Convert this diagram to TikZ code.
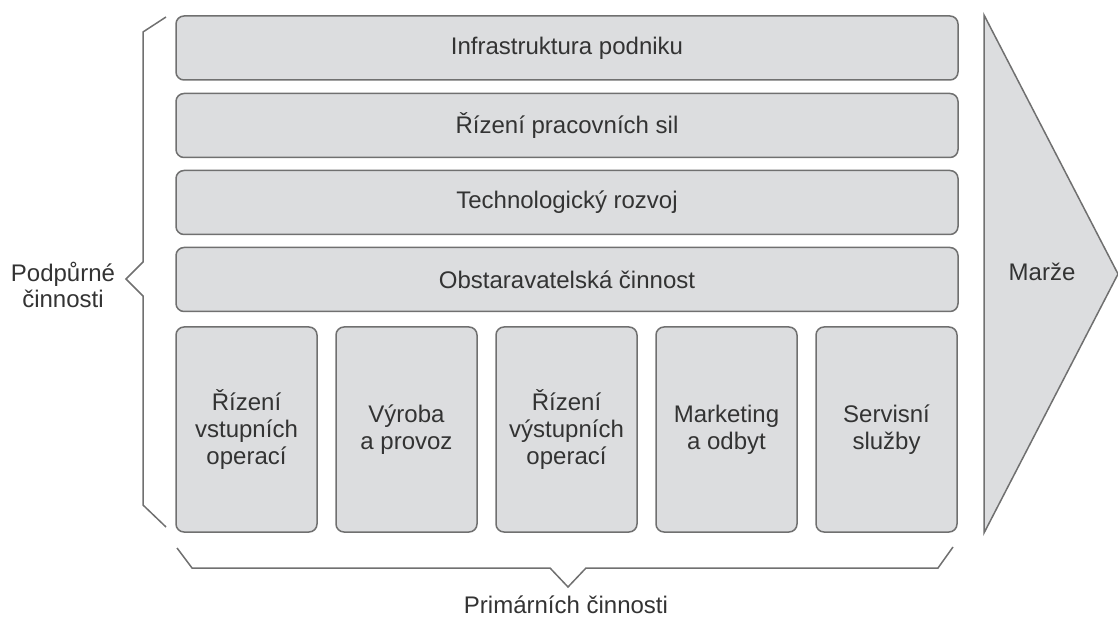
\documentclass[tikz,border=0pt]{standalone}
\usepackage{fontspec}
\setmainfont{Liberation Sans}
\definecolor{boxfill}{HTML}{DCDDDF}
\definecolor{boxline}{HTML}{707070}
\definecolor{txt}{HTML}{333333}
\tikzset{
  bar/.style={draw=boxline,fill=boxfill,line width=0.75pt,rounded corners=4pt,
    minimum width=391pt,minimum height=32pt,text=txt,font=\fontsize{12}{13.5}\selectfont},
  primbox/.style={bar,minimum width=70.5pt,minimum height=102.5pt,align=center},
  brace/.style={draw=boxline,line width=0.75pt},
  lbl/.style={text=txt,font=\fontsize{12}{13}\selectfont,align=center}
}
\begin{document}
\begin{tikzpicture}[x=0.5pt,y=-0.5pt]
		\useasboundingbox (0,0) rectangle (1118,619);
		% support activities
		\foreach \y/\txt [count=\i] in {48/Infrastruktura podniku,125.5/Řízení pracovních sil,
		    202.5/Technologický rozvoj,279.5/Obstaravatelská činnost}
		\node[bar] (bar\i) at (567,\y) {\txt};
		% primary activities
		\foreach \x/\txt [count=\i] in {246.5/{Řízení\\vstupních\\operací},406.5/{Výroba\\a provoz},
		    566.5/{Řízení\\výstupních\\operací},726.5/{Marketing\\a odbyt},886.5/{Servisní\\služby}}
		\node[primbox] (prim\i) at (\x,429.5) {\txt};
		% margin arrow
		\draw[boxline,fill=boxfill,line width=0.75pt] (984,15) -- (1118,274) -- (984,533) -- cycle;
		\node[lbl] (marze) at (1042,272) {Marže};
		% braces
		\coordinate (LB0) at (166,17);
		\coordinate (LB1) at (143,32);
		\coordinate (LB2) at (143,262);
		\coordinate (LBt) at (126,279);
		\coordinate (LB3) at (143,296);
		\coordinate (LB4) at (143,505);
		\coordinate (LB5) at (166,527);
		\draw[brace] (LB0) -- (LB1) -- (LB2) -- (LBt) -- (LB3) -- (LB4) -- (LB5);
		\node[lbl] (podp) at (63,285) {Podpůrné\\činnosti};
		\coordinate (BB0) at (177,548);
		\coordinate (BB1) at (192,568);
		\coordinate (BB2) at (550,568);
		\coordinate (BBt) at (568,587);
		\coordinate (BB3) at (586,568);
		\coordinate (BB4) at (938,568);
		\coordinate (BB5) at (953,547);
		\draw[brace] (BB0) -- (BB1) -- (BB2) -- (BBt) -- (BB3) -- (BB4) -- (BB5);
		\node[lbl] (prim) at (566,605) {Primárních činnosti};
	    \end{tikzpicture}
\end{document}
